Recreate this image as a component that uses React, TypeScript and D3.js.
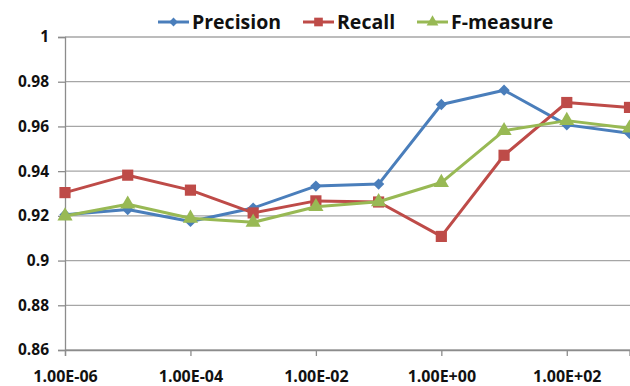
import React, { useEffect, useRef } from "react";
import * as d3 from "d3";

const xValues = [1e-6, 1e-5, 1e-4, 1e-3, 1e-2, 1e-1, 1e0, 1e1, 1e2, 1e3];
const precision = [0.9205, 0.9228, 0.9175, 0.9235, 0.9333, 0.9342, 0.9698, 0.9762, 0.9607, 0.9569];
const recall = [0.9304, 0.9382, 0.9315, 0.9213, 0.9267, 0.9262, 0.9108, 0.9471, 0.9707, 0.9685];
const fmeasure = [0.9199, 0.9252, 0.9189, 0.9171, 0.9241, 0.9263, 0.9349, 0.9581, 0.9626, 0.9592];
const xTicks = [1e-6, 1e-4, 1e-2, 1e0, 1e2];
const xTickLabels = ["1.00E-06", "1.00E-04", "1.00E-02", "1.00E+00", "1.00E+02"];
const yTicks = [0.86, 0.88, 0.9, 0.92, 0.94, 0.96, 0.98, 1];

const series = [
  { name: "Precision", values: precision, color: "#4a7ebb", marker: "diamond" },
  { name: "Recall", values: recall, color: "#be4b48", marker: "square" },
  { name: "F-measure", values: fmeasure, color: "#98b954", marker: "triangle" },
];

const App = () => {
  const ref = useRef<SVGSVGElement>(null);

  useEffect(() => {
    document.body.style.margin = "0";
    const svg = d3.select(ref.current);
    svg.selectAll("*").remove();

    const width = 630;
    const height = 386;
    const font = "'Open Sans', sans-serif";

    const x = d3.scaleLog().domain([1e-6, 1e3]).range([65, 629.5]);
    const y = d3.scaleLinear().domain([0.86, 1]).range([350, 37]);

    // gridlines
    svg
      .append("g")
      .selectAll("line")
      .data(yTicks)
      .enter()
      .append("line")
      .attr("x1", 65)
      .attr("x2", width)
      .attr("y1", (d) => y(d))
      .attr("y2", (d) => y(d))
      .attr("stroke", "#a6a6a6")
      .attr("stroke-width", 1.3);

    // y axis
    const yAxis = svg
      .append("g")
      .attr("transform", "translate(65,0)")
      .call(d3.axisLeft(y).tickValues(yTicks).tickSize(7).tickPadding(9).tickFormat((d) => d3.format("")(+d)));
    yAxis.select(".domain").attr("stroke", "#8c8c8c").attr("stroke-width", 1.3);
    yAxis.selectAll(".tick line").attr("stroke", "#8c8c8c").attr("stroke-width", 1.3);
    yAxis
      .selectAll("text")
      .attr("font-family", font)
      .attr("font-weight", "bold")
      .attr("font-size", 15.5)
      .attr("fill", "#111");

    // x axis
    const xAxis = svg
      .append("g")
      .attr("transform", `translate(0,${y(0.86)})`)
      .call(
        d3
          .axisBottom(x)
          .tickValues(xTicks)
          .tickSize(6)
          .tickPadding(15)
          .tickFormat((d, i) => xTickLabels[i])
      );
    xAxis.select(".domain").attr("stroke", "#8c8c8c").attr("stroke-width", 1.3);
    xAxis.selectAll(".tick line").attr("stroke", "#8c8c8c").attr("stroke-width", 1.3);
    xAxis
      .selectAll("text")
      .attr("font-family", font)
      .attr("font-weight", "bold")
      .attr("font-size", 16)
      .attr("fill", "#111");

    // markers: diamond is a rotated square, like the spreadsheet one
    const markerPath = (m: string, scale: number) => {
      if (m === "diamond") return { d: d3.symbol().type(d3.symbolSquare).size(64 * scale)(), rot: 45 };
      if (m === "square") return { d: d3.symbol().type(d3.symbolSquare).size(125 * scale)(), rot: 0 };
      return { d: d3.symbol().type(d3.symbolTriangle).size(100 * scale)(), rot: 0 };
    };

    const line = d3
      .line<number>()
      .x((d, i) => x(xValues[i]))
      .y((d) => y(d));

    series.forEach((s) => {
      svg
        .append("path")
        .datum(s.values)
        .attr("fill", "none")
        .attr("stroke", s.color)
        .attr("stroke-width", 3)
        .attr("stroke-linejoin", "round")
        .attr("d", line);

      const mk = markerPath(s.marker, 1);
      svg
        .append("g")
        .selectAll("path")
        .data(s.values)
        .enter()
        .append("path")
        .attr("transform", (d, i) => `translate(${x(xValues[i])},${y(d)}) rotate(${mk.rot})`)
        .attr("d", mk.d)
        .attr("fill", s.color);
    });

    // legend
    const legendX = [158, 303, 417];
    const legend = svg.append("g");
    series.forEach((s, i) => {
      const lx = legendX[i];
      legend
        .append("line")
        .attr("x1", lx)
        .attr("x2", lx + 31)
        .attr("y1", 22)
        .attr("y2", 22)
        .attr("stroke", s.color)
        .attr("stroke-width", 3);
      const mk = markerPath(s.marker, 0.6);
      legend
        .append("path")
        .attr("transform", `translate(${lx + 15.5},22) rotate(${mk.rot})`)
        .attr("d", mk.d)
        .attr("fill", s.color);
      legend
        .append("text")
        .attr("x", lx + 34)
        .attr("y", 29)
        .attr("font-family", font)
        .attr("font-weight", "bold")
        .attr("font-size", 19.5)
        .attr("fill", "#111")
        .text(s.name);
    });

    svg.attr("width", width).attr("height", height);
  }, []);

  return <svg ref={ref} width={630} height={386} style={{ display: "block", background: "#fff" }}></svg>;
};

export default App;
